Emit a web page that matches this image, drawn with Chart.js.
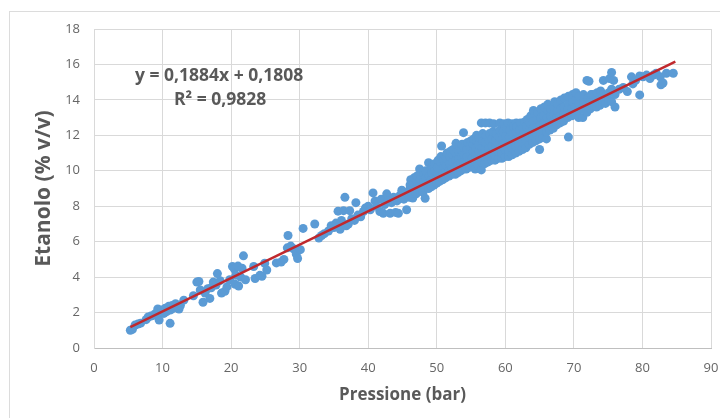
<!DOCTYPE html>
<html>
<head>
<meta charset="utf-8">
<script src="https://cdn.jsdelivr.net/npm/chart.js@4.4.1/dist/chart.umd.min.js"></script>
<style>
  html, body { margin: 0; padding: 0; background: #ffffff; overflow: hidden; }
  #wrap { position: relative; width: 720px; height: 418px; }
  canvas { position: absolute; left: 0; top: 0; }
</style>
</head>
<body>
<div id="wrap"><canvas id="c" width="720" height="418"></canvas></div>
<script>
// ---- Data ----
const xTicks = [0, 10, 20, 30, 40, 50, 60, 70, 80, 90];
const yTicks = [0, 2, 4, 6, 8, 10, 12, 14, 16, 18];
const xTitle = 'Pressione (bar)';
const yTitle = 'Etanolo (% v/v)';
const equationText = 'y = 0,1884x + 0,1808';
const r2Text = 'R\u00B2 = 0,9828';
const trendSlope = 0.1884;
const trendIntercept = 0.1808;
const trendRange = [5.3, 84.8];

// measured points [pressione, etanolo]
const puntiBassi = [
  [5.3,1.0],[5.6,1.05],[6.0,1.3],[6.4,1.35],[6.8,1.4],[7.6,1.6],[7.9,1.75],[8.3,1.8],[8.7,1.85],
  [9.0,1.95],[9.3,2.2],[9.5,1.58],[9.6,2.05],[9.9,2.15],[10.2,1.95],[10.4,2.25],[10.6,2.05],
  [10.9,2.35],[11.1,1.39],[11.2,2.15],[11.4,2.4],[11.6,2.25],[11.9,2.5],[12.1,2.3],[12.4,2.2],
  [12.6,2.4],[13.1,2.7],[14.5,2.95],[15.0,3.72],[15.3,3.75],[15.5,3.27],[15.9,2.58],[16.2,3.1],
  [16.6,3.35],[16.9,2.8],[17.1,3.4],[17.4,3.72],[17.8,3.55],[18.0,4.2],[18.4,3.8],[18.6,3.1],
  [19.1,3.2],[19.4,3.45],[19.8,3.85],[20.2,4.6],[20.5,4.45],[20.7,4.1],[20.6,3.6],[21.0,4.62],
  [21.1,3.5],[21.4,4.0],[21.6,4.5],[21.8,5.2],[22.1,3.85],[23.3,4.6],[23.5,3.92],[24.2,4.1],
  [24.5,4.05],[24.9,4.78],[25.2,4.4],[26.6,4.8],[27.3,4.85],[27.7,5.0],[28.2,5.65],[28.3,6.35],
  [28.7,5.75],[29.1,5.6],[29.5,5.3],[29.7,5.05],[30.1,5.55],[30.5,6.75],[32.2,7.0],[32.8,6.2],
  [33.2,6.35],[33.6,6.45],[34.2,6.6],[34.6,6.9],[35.0,6.8],[35.3,7.05],[35.6,7.72],[35.9,6.7],
  [36.1,7.2],[36.4,7.75],[36.6,8.5],[36.8,6.9],[37.1,7.0],[37.3,7.75],[37.6,7.3],[38.0,7.2],
  [38.2,8.2],[38.5,7.5],[38.9,7.4],[39.3,7.7]
];
const puntiMedi = [
  [39.6,7.9],[40.0,8.0],[40.3,7.8],[40.7,8.75],[41.0,8.3],[41.2,8.0],[41.7,7.7],[41.9,8.4],
  [42.2,7.6],[42.4,8.1],[42.7,8.7],[42.9,8.3],[43.2,7.6],[43.4,8.2],[43.7,8.5],[44.0,7.65],
  [44.2,8.3],[44.4,7.6],[44.6,8.6],[44.9,8.9],[45.2,8.4],[45.6,7.8],[45.8,8.7],
  [46.0,8.5],[46.0,8.9],[46.1,9.2],[46.2,9.5],[46.5,8.46],[46.5,8.75],[46.6,9.0],[46.6,9.3],[46.7,9.6],
  [47.0,8.7],[47.0,9.0],[47.1,9.4],[47.1,9.7],[47.5,8.9],[47.5,9.2],[47.6,9.5],[47.5,10.1],
  [48.0,8.8],[48.0,9.1],[48.1,9.4],[48.1,9.8],[48.3,8.45],[48.4,9.6],[48.4,10.0],
  [48.8,9.0],[48.8,9.3],[48.9,9.7],[48.8,10.45],[49.2,9.1],[49.2,9.5],[49.3,9.9],[49.3,10.2],
  [49.6,9.2],[49.6,9.6],[49.7,10.0],[49.7,10.4],[50.0,9.3],[50.0,9.6],[50.1,9.9],[50.1,10.2],[50.2,10.6],
  [50.4,9.4],[50.4,9.7],[50.5,10.1],[50.5,10.5],[50.6,10.8],[50.7,11.4],
  [50.9,9.5],[50.9,9.8],[51.0,10.2],[51.0,10.6],[51.3,9.6],[51.3,9.9],[51.4,10.3],[51.4,10.7],[51.5,11.0],
  [51.8,9.7],[51.8,10.0],[51.9,10.4],[51.9,10.8],[52.0,11.1],[52.2,9.8],[52.2,10.1],[52.3,10.5],[52.3,10.9],[52.4,11.2],
  [52.7,9.8],[52.7,10.2],[52.8,10.6],[52.8,11.0],[52.8,11.55],[53.1,9.9],[53.1,10.3],[53.2,10.7],[53.2,11.1],[53.3,11.4],
  [53.5,10.0],[53.5,10.4],[53.6,10.8],[53.6,11.2],[53.7,11.5],[53.9,10.1],[53.9,10.5],[54.0,10.9],[54.0,11.3],[53.9,12.15]
];
const puntiAlti = [
  [54.3,10.1],[54.3,10.4],[54.4,10.8],[54.4,11.2],[54.5,11.6],[54.8,10.2],[54.8,10.6],[54.9,11.0],[54.9,11.4],[55.0,11.7],
  [55.2,10.3],[55.2,10.7],[55.3,11.1],[55.3,11.5],[55.4,11.8],[55.6,10.1],[55.6,10.5],[55.7,10.9],[55.7,11.3],[55.8,11.7],[55.8,12.0],
  [56.0,10.3],[56.0,10.7],[56.1,11.1],[56.1,11.5],[56.2,11.9],[56.5,10.05],[56.5,10.5],[56.6,10.9],[56.6,11.3],[56.7,11.7],[56.7,12.1],[56.5,12.7],
  [57.0,10.4],[57.0,10.8],[57.1,11.2],[57.1,11.6],[57.2,12.0],[57.1,12.7],[57.5,10.5],[57.5,10.9],[57.6,11.3],[57.6,11.7],[57.7,12.1],[57.7,12.7],
  [58.0,10.6],[58.0,11.0],[58.1,11.4],[58.1,11.8],[58.2,12.2],[58.3,12.65],[58.5,10.6],[58.5,10.9],[58.6,11.3],[58.6,11.7],[58.7,12.1],
  [59.0,10.7],[59.0,11.1],[59.1,11.5],[59.1,11.9],[59.2,12.3],[59.2,12.7],[59.5,10.7],[59.5,11.0],[59.6,11.4],[59.6,11.8],[59.7,12.2],[59.8,12.65],
  [60.0,10.8],[60.0,11.2],[60.1,11.6],[60.1,12.0],[60.2,12.4],[60.4,12.7],[60.5,10.8],[60.5,11.1],[60.6,11.5],[60.6,11.9],[60.7,12.3],[61.0,12.65],
  [61.0,10.9],[61.0,11.3],[61.1,11.7],[61.1,12.1],[61.2,12.5],[61.6,12.7],[61.5,11.0],[61.5,11.4],[61.6,11.8],[61.6,12.2],[61.7,12.5],
  [62.0,11.1],[62.0,11.5],[62.1,11.9],[62.1,12.3],[62.2,12.7],[62.5,11.2],[62.5,11.6],[62.6,12.0],[62.6,12.4],[62.8,12.75],
  [63.0,11.3],[63.0,11.7],[63.1,12.1],[63.1,12.5],[63.2,12.9],[63.5,11.5],[63.5,11.9],[63.6,12.3],[63.6,12.7],[63.7,13.1],
  [64.0,11.6],[64.0,12.0],[64.1,12.4],[64.1,12.8],[64.1,13.4],[64.5,11.7],[64.5,12.1],[64.6,12.5],[64.6,12.9],[64.7,13.3],
  [65.0,11.2],[65.0,11.8],[65.1,12.2],[65.1,12.6],[65.2,13.0],[65.2,13.5],[65.5,11.9],[65.5,12.3],[65.6,12.7],[65.6,13.1],[65.7,13.6],
  [66.0,11.8],[66.0,12.2],[66.1,12.6],[66.1,13.0],[66.2,13.4],[66.2,13.75],[66.5,12.3],[66.5,12.7],[66.6,13.1],[66.6,13.5],
  [67.0,12.4],[67.0,12.8],[67.1,13.2],[67.1,13.6],[67.2,13.9],[67.5,12.6],[67.5,13.0],[67.6,13.4],[67.6,13.8],
  [68.0,12.7],[68.0,13.1],[68.1,13.5],[68.1,14.0],[68.5,12.8],[68.5,13.2],[68.6,13.6],[68.6,14.1],
  [69.2,11.9],[69.1,13.0],[69.1,13.4],[69.2,13.8],[69.2,14.2],[69.7,13.1],[69.7,13.5],[69.8,13.9],[69.8,14.3],
  [70.2,13.2],[70.2,13.6],[70.3,14.0],[70.3,14.4],[70.7,13.0],[70.7,13.4],[70.8,13.8],[70.8,14.2],
  [71.3,13.0],[71.3,13.5],[71.4,13.9],[71.4,14.3],[71.9,13.3],[71.9,13.7],[72.0,14.1],[71.9,15.1],[72.2,15.05],
  [72.4,13.5],[72.4,13.9],[72.5,14.3],[72.8,13.7],[72.8,14.3],[73.3,13.6],[73.3,14.0],[73.4,14.4],
  [73.8,13.7],[73.8,14.1],[73.9,14.5],[74.2,13.9],[74.2,14.3],[74.3,15.1],[74.6,13.8],[74.6,14.2],
  [75.1,14.0],[75.1,14.4],[75.2,15.2],[75.5,13.9],[75.5,14.6],[75.5,15.55],[75.8,15.1],[76.0,13.6],[76.0,14.3],
  [76.6,14.6],[77.2,14.7],[77.8,14.47],[78.4,15.3],[78.6,14.9],[79.0,15.1],[79.6,14.28],[79.6,15.35],
  [80.1,15.3],[80.6,15.4],[81.1,15.2],[81.6,15.4],[82.0,15.5],[82.7,14.85],[82.6,15.3],[83.0,14.95],
  [83.5,15.5],[84.5,15.5]
];

const punti = puntiBassi.concat(puntiMedi, puntiAlti).map(p => ({x: p[0], y: p[1]}));
const trendPoints = trendRange.map(x => ({x: x, y: trendSlope * x + trendIntercept}));

const frame = {
  id: 'frame',
  beforeDraw(chart) {
    const ctx = chart.ctx;
    ctx.save();
    ctx.fillStyle = '#ffffff';
    ctx.fillRect(0, 0, chart.width, chart.height);
    ctx.strokeStyle = '#dcdcdc';
    ctx.lineWidth = 1;
    ctx.strokeRect(9.5, 11.5, 900, 900);
    ctx.restore();
  }
};

const annot = {
  id: 'annot',
  afterDatasetsDraw(chart) {
    const ctx = chart.ctx;
    const xs = chart.scales.x, ys = chart.scales.y;
    ctx.save();
    ctx.fillStyle = '#595959';
    ctx.font = 'bold 17.5px "Open Sans"';
    ctx.textAlign = 'center';
    ctx.textBaseline = 'middle';
    ctx.fillText(equationText, xs.getPixelForValue(18.25), ys.getPixelForValue(15.35));
    ctx.fillText(r2Text, xs.getPixelForValue(18.4), ys.getPixelForValue(14.0));
    ctx.restore();
  }
};

new Chart(document.getElementById('c'), {
  type: 'scatter',
  data: {
    datasets: [
      {
        type: 'line',
        label: 'trend',
        data: trendPoints,
        borderColor: '#C0282D',
        borderWidth: 2.5,
        pointRadius: 0,
        fill: false,
        showLine: true,
        order: 0
      },
      {
        label: 'Etanolo',
        data: punti,
        backgroundColor: '#5B9BD5',
        borderWidth: 0,
        pointRadius: 4.5,
        pointHoverRadius: 4.5,
        order: 1
      }
    ]
  },
  options: {
    responsive: false,
    animation: false,
    devicePixelRatio: 1,
    layout: { padding: { left: 0, top: 29, right: 9, bottom: 0 } },
    plugins: { legend: { display: false }, tooltip: { enabled: false } },
    scales: {
      x: {
        type: 'linear',
        min: xTicks[0], max: xTicks[xTicks.length - 1],
        afterBuildTicks(s) { s.ticks = xTicks.map(v => ({value: v})); },
        afterFit(s) { s.height = 70; s.paddingLeft = 0; s.paddingRight = 0; },
        grid: { color: '#d9d9d9', drawTicks: false },
        border: { color: '#bfbfbf' },
        ticks: { color: '#666666', font: { family: 'Open Sans', size: 13 }, padding: 12 },
        title: { display: true, text: xTitle, color: '#595959',
                 font: { family: 'Open Sans', size: 17, weight: 'bold' }, padding: { top: 0, bottom: 13 } }
      },
      y: {
        type: 'linear',
        min: yTicks[0], max: yTicks[yTicks.length - 1],
        afterBuildTicks(s) { s.ticks = yTicks.map(v => ({value: v})); },
        afterFit(s) { s.width = 94; },
        grid: { color: '#d9d9d9', drawTicks: false },
        border: { color: '#d9d9d9' },
        ticks: { color: '#666666', font: { family: 'Open Sans', size: 13 }, padding: 14 },
        title: { display: true, text: yTitle, color: '#595959',
                 font: { family: 'Open Sans', size: 21, weight: 'bold' }, padding: { top: 31, bottom: 0 } }
      }
    }
  },
  plugins: [frame, annot]
});
</script>
</body>
</html>
